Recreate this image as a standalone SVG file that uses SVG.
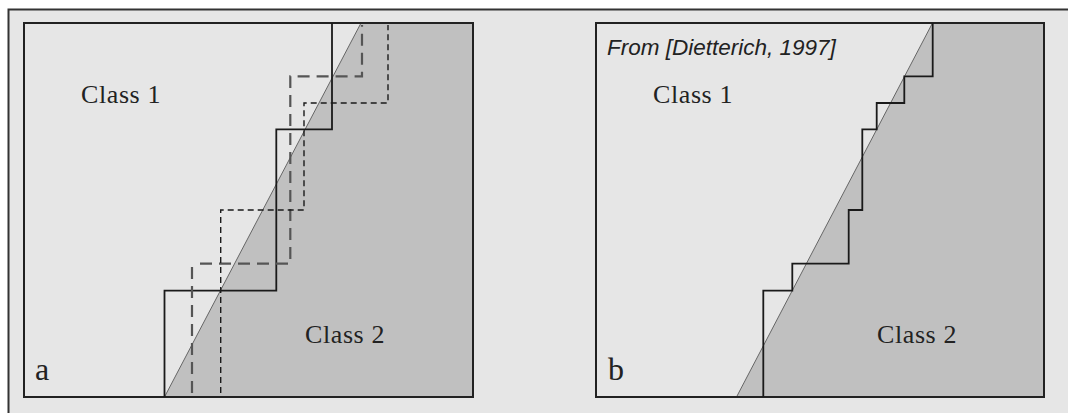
<svg xmlns="http://www.w3.org/2000/svg" width="1068" height="413" viewBox="0 0 1068 413">
<style>
.panel{fill:#e6e6e6;stroke:#222;stroke-width:2}
.region{fill:#c0c0c0;stroke:#666;stroke-width:1}
.stair{fill:none;stroke:#1a1a1a;stroke-width:1.8}
.dlong{fill:none;stroke:#555;stroke-width:2.2;stroke-dasharray:12,7}
.dshort{fill:none;stroke:#1a1a1a;stroke-width:1.4;stroke-dasharray:6,4}
.cls{font-family:"Liberation Serif",serif;font-size:26px;letter-spacing:0.6px;fill:#222}
.lbl{font-family:"Liberation Serif",serif;font-size:32px;fill:#222}
.cite{font-family:"Liberation Sans",sans-serif;font-style:italic;font-size:22.5px;fill:#222}
</style>
<rect x="0" y="0" width="1068" height="413" fill="#ffffff"/>
<rect x="8.5" y="9.5" width="1075" height="420" fill="#e6e6e6" stroke="#333" stroke-width="2"/>
<g id="panel-a">
<rect class="panel" x="24" y="23" width="449" height="374"/>
<polygon class="region" points="164.5,397 361,23 473,23 473,397"/>
<rect x="24" y="23" width="449" height="374" fill="none" stroke="#222" stroke-width="2"/>
<text class="cls" x="81" y="103">Class 1</text>
<text class="cls" x="305" y="343">Class 2</text>
<text class="lbl" x="35" y="380">a</text>
</g>
<g id="panel-b">
<rect class="panel" x="596" y="23" width="448" height="374"/>
<polygon class="region" points="736.5,397 932.5,23 1044,23 1044,397"/>
<rect x="596" y="23" width="448" height="374" fill="none" stroke="#222" stroke-width="2"/>
<text class="cite" x="607" y="55">From [Dietterich, 1997]</text>
<text class="cls" x="653" y="103">Class 1</text>
<text class="cls" x="877" y="343">Class 2</text>
<text class="lbl" x="608" y="380">b</text>
</g>
<g id="connectors">
<polyline class="stair" points="164.5,397 164.5,290.7 276.3,290.7 276.3,129.3 332,129.3 332,23"/>
<polyline class="dlong" points="192,393 192,266.7"/>
<polyline class="dlong" points="200,263.7 290.3,263.7 290.3,76.3 362,76.3 362,25"/>
<polyline class="dshort" points="220.7,393 220.7,210 304,210 304,103 388,103 388,25"/>
<polyline class="stair" points="763.3,397 763.3,290.7 792.3,290.7 792.3,263.7 848.7,263.7 848.7,210 862.3,210 862.3,129.3 876.7,129.3 876.7,103 904.3,103 904.3,76.3 932.7,76.3 932.7,23"/>
</g>
</svg>
